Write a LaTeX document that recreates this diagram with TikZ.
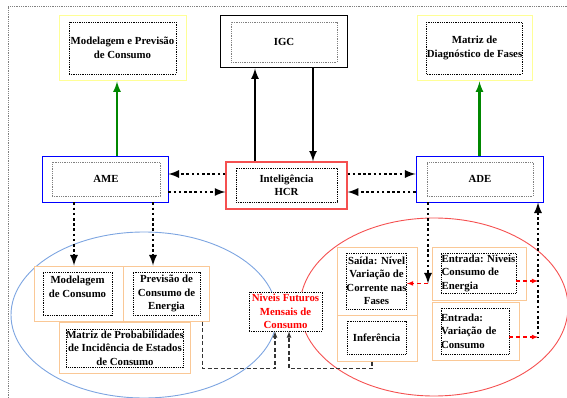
\documentclass[tikz,border=0pt]{standalone}
\usepackage{fontspec}
\setmainfont{Liberation Serif}
\definecolor{softyellow}{RGB}{255,255,150}
\definecolor{peach}{RGB}{250,200,150}
\definecolor{skyline}{RGB}{125,165,225}
\definecolor{rosered}{RGB}{245,80,80}
\definecolor{leafgreen}{RGB}{0,135,0}

\begin{document}
\begin{tikzpicture}[x=1pt,y=-1pt,
    font=\fontsize{10.8}{13.5}\selectfont\bfseries,
    box/.style 2 args={draw,fill=white,minimum width=#1,minimum height=#2,inner sep=0pt},
    inbox/.style 2 args={box={#1}{#2},densely dotted,line width=0.8pt,align=center},
    dotarrow/.style={line width=2.6pt,dash pattern=on 2.6pt off 2.6pt},
    dashline/.style={dash pattern=on 4pt off 2.5pt,line width=1.1pt,black!80},
    reddash/.style={dash pattern=on 4pt off 3pt,line width=1.1pt,red,-latex},
    solidarrow/.style={line width=2.5pt,-latex}]
    \useasboundingbox (0,0) rectangle (567,398);
    \draw [gray,densely dotted,line width=0.8pt] (8,398) -- (8,6) -- (567,6);
    % the two groups
    \draw [skyline,line width=0.9pt] (144,315) ellipse [x radius=133,y radius=83];
    \draw [rosered,line width=0.9pt] (434,307) ellipse [x radius=134,y radius=89];

    % top row
    \node [box={127}{65},draw=softyellow,line width=1pt] (mpo) at (122.5,48.5) {};
    \node [inbox={107}{52}] (mpoi) at (122.5,48) {Modelagem e Previsão\\de Consumo};
    \node [box={127}{52},line width=1pt] (igc) at (283.5,42) {};
    \node [inbox={106}{40},draw=gray] (igci) at (284,42) {IGC};
    \node [box={115}{65},draw=softyellow,line width=1pt] (mdf) at (474.5,48.5) {};
    \node [inbox={95}{52}] (mdfi) at (474.5,48) {Matriz de\\Diagnóstico de Fases};

    % middle row
    \node [box={126}{46},draw=blue,line width=0.9pt] (ame) at (105,179) {};
    \node [inbox={108}{34},draw=gray] (amei) at (106,179) {AME};
    \node [box={121}{47},draw=rosered,line width=1.3pt] (hcr) at (286.5,185.5) {};
    \node [inbox={101}{34}] (hcri) at (286.5,185) {Inteligência\\HCR};
    \node [box={127}{46},draw=blue,line width=0.9pt] (ade) at (479.5,179) {};
    \node [inbox={106}{34},draw=gray] (adei) at (480,179) {ADE};

    % left group
    \node [box={89}{55},draw=peach,line width=1pt] (mc) at (78.5,293.5) {};
    \node [inbox={69}{43}] (mci) at (77.5,293.5) {Modelagem\\de Consumo\\\mbox{}};
    \node [box={86}{55},draw=peach,line width=1pt] (pce) at (166,293.5) {};
    \node [inbox={67}{43}] (pcei) at (166.5,293.5) {Previsão de\\Consumo de\\Energia};
    \node [box={131}{51},draw=peach,line width=1pt] (mpe) at (124.5,347.5) {};
    \node [inbox={112}{38}] (mpei) at (125,348) {Matriz de Probabilidades\\de Incidência de Estados\\de Consumo};
    \node [inbox={73}{39},text=red] (nfm) at (285.5,311.5) {Niveis Futuros\\Mensais de\\Consumo};

    % right group
    \node [box={80}{68},draw=peach,line width=1pt] (sai) at (377,281) {};
    \node [inbox={59}{56}] (saii) at (376.5,281) {Saída: Nível\\Variação de\\Corrente nas\\Fases};
    \node [box={80}{46},draw=peach,line width=1pt] (inf) at (377,338) {};
    \node [inbox={59}{33}] (infi) at (376.5,337.5) {Inferência};
    \node [box={94}{53},draw=peach,line width=1pt] (een) at (479,273.5) {};
    \node [inbox={75}{40},align=left] (eeni) at (478.5,273) {Entrada: Niveis\\Consumo de\\Energia};
    \node [box={87}{58},draw=peach,line width=1pt] (evc) at (475.5,331) {};
    \node [inbox={68}{46},text width=68pt,align=left] (evci) at (475,331) {Entrada:\\Variação de\\Consumo};

    % connectors
    \draw [solidarrow,leafgreen] ([xshift=12pt]ame.north) -- ([xshift=12pt]ame.north |- mpo.south);
    \draw [solidarrow,leafgreen] (ade.north) -- (ade.north |- mdf.south);
    \draw [solidarrow] ([xshift=-28.5pt]igc.south |- hcr.north) -- ([xshift=-28.5pt]igc.south);
    \draw [solidarrow] ([xshift=29.5pt]igc.south) -- ([xshift=29.5pt]igc.south |- hcr.north);
    \draw [dotarrow,-latex] ([yshift=11.5pt]hcr.west) -- ([yshift=11.5pt]hcr.west -| ame.east);
    \draw [dotarrow,-latex] ([yshift=-6.5pt]hcr.west -| ame.east) -- ([yshift=-6.5pt]hcr.west);
    \draw [dotarrow,-latex] ([yshift=11.5pt]hcr.east) -- ([yshift=11.5pt]hcr.east -| ade.west);
    \draw [dotarrow,-latex] ([yshift=-6.5pt]hcr.east -| ade.west) -- ([yshift=-6.5pt]hcr.east);
    \draw [dotarrow,-latex] ([xshift=-31pt]ame.south) -- ([xshift=-31pt]ame.south |- mc.north);
    \draw [dotarrow,-latex] ([xshift=48pt]ame.south) -- ([xshift=48pt]ame.south |- pce.north);
    \draw [dotarrow,-latex] ([xshift=-51.5pt]ade.south) -- ++(0,81) coordinate (adedown);
    \draw [reddash] (adedown) -- (adedown -| saii.east);
    \draw [dotarrow,latex-] ([xshift=58.5pt]ade.south) -- ++(0,135) coordinate (adeup);
    \draw [reddash] ([yshift=-8pt]eeni.east) -- ([yshift=-8pt]eeni.east -| adeup);
    \draw [reddash] ([yshift=-6pt]evci.east) -- ([yshift=-6pt]evci.east -| adeup);
    \draw [dashline,-latex] ([xshift=-7pt]pce.south east) -- ++(0,47) -| ([xshift=-10.5pt]nfm.south);
    \draw [dashline,-latex] ([xshift=-5pt]inf.south) -- ++(0,7) -| ([xshift=3.5pt]nfm.south);
\end{tikzpicture}
\end{document}
